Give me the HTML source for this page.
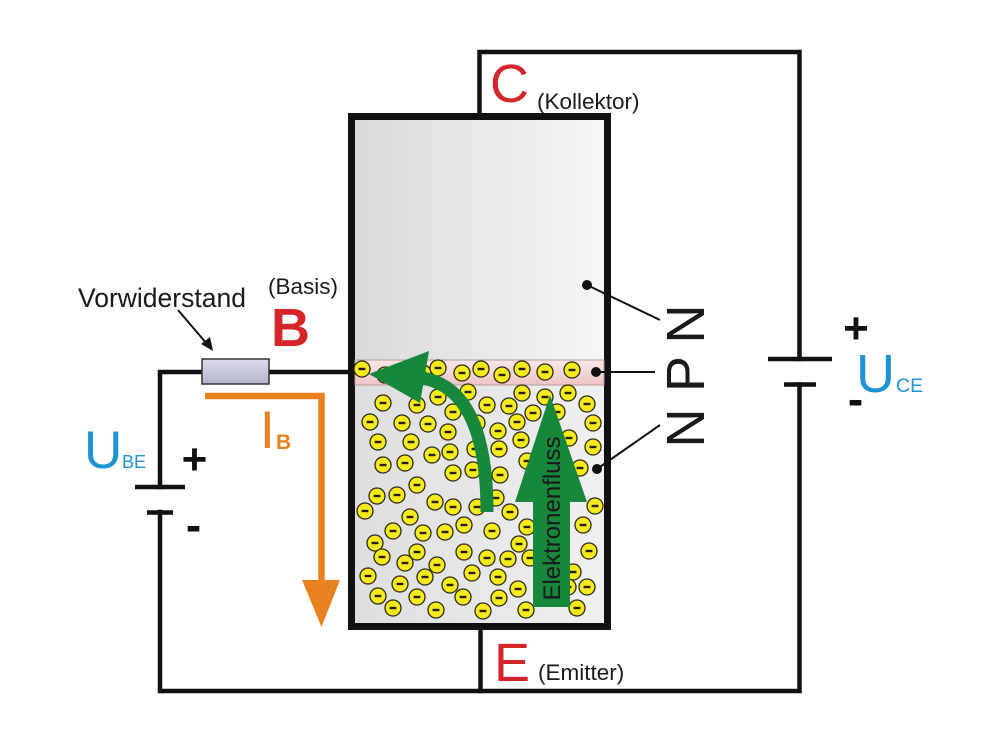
<!DOCTYPE html>
<html><head><meta charset="utf-8"><style>
html,body{margin:0;padding:0;background:#fff;}
svg{display:block;}
text{font-family:"Liberation Sans",Arial,sans-serif;}
</style></head><body>
<svg width="992" height="744" viewBox="0 0 992 744" xmlns="http://www.w3.org/2000/svg">
<defs>
<linearGradient id="box" x1="0" y1="0" x2="1" y2="0">
<stop offset="0" stop-color="#d9d9d9"/><stop offset="1" stop-color="#f7f7f7"/>
</linearGradient>
<linearGradient id="box2" x1="0" y1="0" x2="1" y2="0">
<stop offset="0" stop-color="#dedede"/><stop offset="1" stop-color="#f0f0f0"/>
</linearGradient>
<linearGradient id="pband" x1="0" y1="0" x2="0" y2="1">
<stop offset="0" stop-color="#f8e8e8"/><stop offset="1" stop-color="#efc4c4"/>
</linearGradient>
<linearGradient id="res" x1="0" y1="0" x2="0" y2="1">
<stop offset="0" stop-color="#dcdcec"/><stop offset="1" stop-color="#b4b4cc"/>
</linearGradient>
<g id="el"><circle r="8" fill="#f6ea1c" stroke="#2a2a1a" stroke-width="1.3"/><rect x="-3.4" y="-1.2" width="6.8" height="2.4" fill="#222"/></g>
</defs>

<!-- wires -->
<g stroke="#111" stroke-width="4.5" fill="none" stroke-linecap="square">
<path d="M479.5,113 V52 H799.5 V359"/>
<path d="M799.5,384.5 V691 H160 V512"/>
<path d="M160,487 V372 H202"/>
<path d="M269,372 H350"/>
<path d="M480.5,630 V691"/>
</g>
<!-- battery plates -->
<g stroke="#111" stroke-width="4.5">
<line x1="135" y1="487" x2="185" y2="487"/>
<line x1="147" y1="512.5" x2="173" y2="512.5"/>
<line x1="768" y1="359" x2="832" y2="359"/>
<line x1="784" y1="384.5" x2="816" y2="384.5"/>
</g>

<!-- resistor -->
<rect x="202" y="359" width="67" height="25" fill="url(#res)" stroke="#333" stroke-width="1.5"/>

<!-- transistor box -->
<rect x="351.5" y="116.5" width="256" height="510" fill="url(#box)" stroke="#111" stroke-width="7"/>
<rect x="355" y="385" width="249" height="238" fill="url(#box2)"/>
<rect x="355" y="360" width="249" height="25" fill="url(#pband)" stroke="#b89a9a" stroke-width="1"/>

<!-- electrons -->
<g>
<use href="#el" x="362" y="369"/><use href="#el" x="385" y="375"/><use href="#el" x="423" y="373"/><use href="#el" x="438" y="368"/><use href="#el" x="462" y="373"/><use href="#el" x="481" y="369"/><use href="#el" x="502" y="375"/><use href="#el" x="522" y="369"/><use href="#el" x="545" y="372"/><use href="#el" x="572" y="370"/>
<use href="#el" x="468" y="392"/><use href="#el" x="522" y="393"/><use href="#el" x="545" y="397"/><use href="#el" x="568" y="393"/><use href="#el" x="383" y="403"/><use href="#el" x="417" y="405"/><use href="#el" x="438" y="397"/><use href="#el" x="487" y="405"/><use href="#el" x="509" y="406"/><use href="#el" x="533" y="413"/><use href="#el" x="587" y="404"/>
<use href="#el" x="370" y="422"/><use href="#el" x="402" y="423"/><use href="#el" x="428" y="424"/><use href="#el" x="453" y="412"/><use href="#el" x="477" y="423"/><use href="#el" x="517" y="422"/><use href="#el" x="557" y="412"/><use href="#el" x="593" y="423"/>
<use href="#el" x="378" y="442"/><use href="#el" x="411" y="442"/><use href="#el" x="448" y="432"/><use href="#el" x="498" y="431"/><use href="#el" x="521" y="440"/><use href="#el" x="569" y="438"/><use href="#el" x="593" y="447"/>
<use href="#el" x="432" y="455"/><use href="#el" x="450" y="452"/><use href="#el" x="475" y="449"/><use href="#el" x="499" y="449"/><use href="#el" x="527" y="461"/><use href="#el" x="383" y="465"/><use href="#el" x="405" y="463"/><use href="#el" x="453" y="473"/><use href="#el" x="473" y="470"/><use href="#el" x="500" y="475"/><use href="#el" x="580" y="468"/>
<use href="#el" x="377" y="496"/><use href="#el" x="397" y="495"/><use href="#el" x="417" y="485"/><use href="#el" x="496" y="498"/>
<use href="#el" x="365" y="511"/><use href="#el" x="435" y="502"/><use href="#el" x="453" y="507"/><use href="#el" x="477" y="507"/><use href="#el" x="510" y="512"/><use href="#el" x="595" y="506"/><use href="#el" x="410" y="517"/>
<use href="#el" x="393" y="531"/><use href="#el" x="423" y="533"/><use href="#el" x="445" y="532"/><use href="#el" x="464" y="525"/><use href="#el" x="492" y="531"/><use href="#el" x="527" y="527"/><use href="#el" x="583" y="525"/>
<use href="#el" x="375" y="543"/><use href="#el" x="382" y="557"/><use href="#el" x="417" y="552"/><use href="#el" x="464" y="552"/><use href="#el" x="519" y="544"/><use href="#el" x="589" y="551"/><use href="#el" x="487" y="558"/><use href="#el" x="508" y="559"/><use href="#el" x="405" y="563"/><use href="#el" x="437" y="565"/><use href="#el" x="530" y="558"/>
<use href="#el" x="368" y="576"/><use href="#el" x="425" y="577"/><use href="#el" x="472" y="573"/><use href="#el" x="498" y="577"/><use href="#el" x="573" y="572"/><use href="#el" x="400" y="584"/><use href="#el" x="450" y="585"/><use href="#el" x="518" y="589"/><use href="#el" x="587" y="587"/><use href="#el" x="568" y="587"/>
<use href="#el" x="378" y="596"/><use href="#el" x="417" y="597"/><use href="#el" x="463" y="597"/><use href="#el" x="499" y="598"/><use href="#el" x="393" y="608"/><use href="#el" x="436" y="610"/><use href="#el" x="483" y="611"/><use href="#el" x="526" y="610"/><use href="#el" x="577" y="608"/>
</g>

<!-- green curved arrow -->
<path d="M487,512 C487,440 470,386 422,378" fill="none" stroke="#17873c" stroke-width="13"/>
<polygon points="369,374 429,351 420,403" fill="#17873c"/>
<!-- green straight arrow -->
<rect x="533" y="500" width="37" height="107" fill="#17873c"/>
<polygon points="550,395 515,502 587,502" fill="#17873c"/>
<text transform="translate(560,518.5) rotate(-90)" text-anchor="middle" font-size="24" fill="#1a1a1a">Elektronenfluss</text>

<!-- NPN leaders -->
<g stroke="#111" stroke-width="2" fill="#111">
<line x1="587" y1="285" x2="660" y2="320"/><circle cx="587" cy="285" r="4"/>
<line x1="596" y1="372" x2="655" y2="372"/><circle cx="596" cy="372" r="4"/>
<line x1="597" y1="469" x2="660" y2="425"/><circle cx="597" cy="469" r="4"/>
</g>
<g font-size="54" fill="#1a1a1a" text-anchor="middle">
<text transform="translate(704,324) rotate(-90)">N</text>
<text transform="translate(704,374) rotate(-90)">P</text>
<text transform="translate(704,428) rotate(-90)">N</text>
</g>

<!-- Vorwiderstand arrow -->
<line x1="178" y1="310" x2="207" y2="344" stroke="#111" stroke-width="2"/>
<polygon points="213,351 201,344 210,337" fill="#111"/>

<!-- orange IB arrow -->
<path d="M205,396 H321.5 V583" fill="none" stroke="#e8821e" stroke-width="6.5"/>
<polygon points="302,580 340,580 321.5,627" fill="#e8821e"/>
<text x="260" y="448" font-size="53" fill="#e8821e">I</text>
<text x="276" y="449" font-size="21" font-weight="bold" fill="#e8821e">B</text>

<!-- labels -->
<text x="78" y="307" font-size="26.5" fill="#1a1a1a">Vorwiderstand</text>
<text x="268" y="294" font-size="22.5" fill="#1a1a1a">(Basis)</text>
<text x="271" y="346" font-size="54" font-weight="bold" fill="#d4262a">B</text>
<text x="490" y="102" font-size="54" fill="#d4262a">C</text>
<text x="537" y="109" font-size="22.5" fill="#1a1a1a">(Kollektor)</text>
<text x="494" y="681" font-size="54" fill="#d4262a">E</text>
<text x="538" y="680" font-size="22.5" fill="#1a1a1a">(Emitter)</text>

<text x="84" y="468" font-size="53" fill="#1f93d2">U</text>
<text x="122" y="468" font-size="18" fill="#1f93d2">BE</text>
<text x="194.5" y="474" font-size="44" font-weight="bold" text-anchor="middle" fill="#111">+</text>
<text x="193.5" y="541" font-size="46" font-weight="bold" text-anchor="middle" fill="#111">-</text>

<text x="856" y="392" font-size="54" fill="#1f93d2">U</text>
<text x="896" y="392" font-size="19.5" fill="#1f93d2">CE</text>
<text x="856" y="343" font-size="44" font-weight="bold" text-anchor="middle" fill="#111">+</text>
<text x="855.5" y="415" font-size="46" font-weight="bold" text-anchor="middle" fill="#111">-</text>
</svg>
</body></html>
